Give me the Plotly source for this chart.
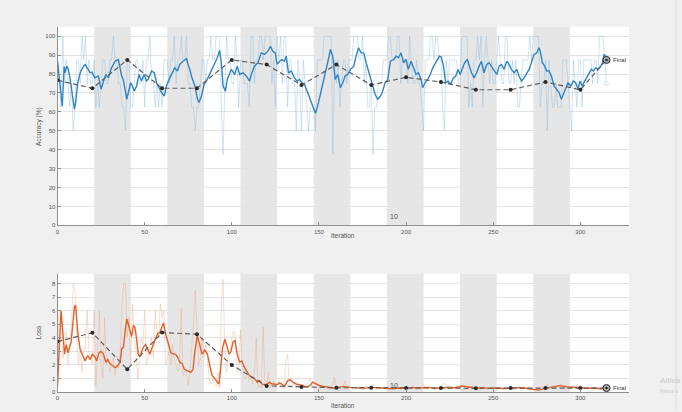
import plotly.graph_objects as go

# ---------------- data ----------------
ITERS_PER_EPOCH = 21
N_EPOCHS = 15

acc_raw = [
    87.5, 75, 62.5, 100, 75, 87.5, 75, 62.5, 75, 50,
    62.5, 87.5, 87.5, 75, 100, 87.5, 100, 75, 87.5, 75,
    75, 87.5, 62.5, 75, 62.5, 75, 87.5, 87.5, 75, 75,
    87.5, 87.5, 100, 87.5, 87.5, 75, 75, 62.5, 62.5, 50,
    87.5, 87.5, 62.5, 62.5, 75, 87.5, 87.5, 75, 75, 87.5,
    62.5, 87.5, 87.5, 100, 75, 75, 62.5, 75, 62.5, 75,
    62.5, 87.5, 87.5, 87.5, 75, 87.5, 87.5, 100, 75, 87.5,
    87.5, 100, 87.5, 87.5, 100, 75, 75, 62.5, 62.5, 50,
    62.5, 62.5, 75, 87.5, 87.5, 75, 87.5, 87.5, 100, 87.5,
    87.5, 100, 100, 100, 62.5, 37.5, 75, 100, 87.5, 87.5,
    75, 75, 100, 87.5, 62.5, 87.5, 87.5, 75, 75, 75,
    62.5, 100, 100, 75, 87.5, 87.5, 100, 100, 87.5, 100,
    100, 100, 100, 75, 87.5, 62.5, 100, 87.5, 100, 75,
    100, 100, 62.5, 87.5, 87.5, 75, 75, 50, 87.5, 75,
    50, 87.5, 75, 62.5, 50, 62.5, 62.5, 62.5, 50, 87.5,
    87.5, 87.5, 87.5, 100, 100, 100, 100, 100, 37.5, 87.5,
    75, 87.5, 62.5, 75, 87.5, 87.5, 75, 87.5, 87.5, 87.5,
    100, 100, 100, 87.5, 87.5, 100, 75, 87.5, 62.5, 62.5,
    75, 37.5, 62.5, 62.5, 75, 75, 75, 87.5, 87.5, 87.5,
    100, 100, 87.5, 87.5, 87.5, 100, 100, 75, 87.5, 87.5,
    87.5, 75, 100, 87.5, 75, 75, 87.5, 75, 75, 62.5,
    50, 87.5, 87.5, 87.5, 100, 100, 87.5, 100, 100, 87.5,
    87.5, 62.5, 50, 87.5, 75, 87.5, 87.5, 87.5, 87.5, 87.5,
    75, 75, 100, 100, 100, 100, 62.5, 75, 62.5, 87.5,
    87.5, 100, 87.5, 100, 62.5, 87.5, 100, 87.5, 75, 87.5,
    75, 75, 87.5, 100, 87.5, 75, 75, 100, 100, 75,
    75, 87.5, 75, 87.5, 62.5, 62.5, 75, 87.5, 87.5, 87.5,
    87.5, 100, 87.5, 100, 100, 100, 100, 62.5, 75, 75,
    87.5, 50, 87.5, 75, 62.5, 62.5, 75, 62.5, 62.5, 62.5,
    87.5, 87.5, 87.5, 75, 62.5, 50, 87.5, 75, 62.5, 87.5,
    87.5, 62.5, 87.5, 87.5, 87.5, 87.5, 87.5, 75, 87.5, 87.5,
    75, 100, 100, 100, 87.5, 75,
]

acc_smooth_iter = [
    0, 1, 2.7, 3.8, 4.3, 5.3, 6.2, 7.1, 8.6, 9.7, 10.4, 11.6, 13, 14.9, 15.9, 17.4, 18.7, 19.7,
    21.5, 23.4, 25, 26.3, 27.7, 29.2, 31, 33, 34.9, 36.8, 37.7, 39.7, 41, 42, 42.9, 44, 45.4,
    46.7, 48.2, 49.7, 51, 52, 54, 55.5, 56.8, 58.2, 59.7, 61.2, 62.5, 64, 65.4, 66.3, 67.3,
    68.8, 70.1, 72, 74, 74.9, 75.9, 76.8, 78.8, 80.3, 81.2, 82.6, 84.1, 85.4, 86.8, 88.3, 90.2,
    91.7, 93, 94, 95, 96.3, 97.4, 98.7, 99.7, 101.6, 103.1, 104.5, 106.4, 108.3, 110.2, 111.5,
    113, 115, 116.9, 118.8, 120.7, 122.2, 123.5, 124.9, 126, 127.4, 128.7, 130.2, 131.2, 132.5,
    134.1, 136, 137.5, 138.8, 140.2, 141.7, 143.2, 144.6, 146.5, 148, 149.3, 150.9, 152.2,
    154.1, 155.4, 156.6, 157.9, 159.3, 160.8, 162.3, 163.7, 165, 166.5, 168.1, 170, 171.3,
    172.7, 174.2, 175.7, 177.1, 178, 179.5, 180.9, 182.2, 183.7, 185.3, 186.6, 187.9, 189.5,
    191, 192.9, 194.3, 195.6, 197.1, 198.6, 200, 201.3, 202.9, 204.4, 205.7, 207.1, 208.6,
    209.5, 210.9, 212.4, 213.9, 215.3, 217.2, 219.1, 220.2, 221.5, 222.7, 224.1, 225.6, 227.1,
    228.5, 229.8, 231, 232.3, 233.6, 235.2, 236.1, 237.5, 239, 240.5, 241.9, 243.2, 244.7,
    246.3, 247.6, 248.9, 250.5, 252, 253.4, 254.7, 256.2, 257.8, 259.1, 260.4, 262, 263.5,
    264.8, 266.2, 267.7, 269.2, 270.6, 271.9, 273.4, 275, 276.3, 277.2, 278.2, 279.5, 280.7,
    282, 283.4, 284.9, 286.4, 287.8, 289.1, 290.3, 291.6, 292.9, 294.5, 296, 297.3, 298.7,
    299.8, 301.1, 302.5, 303.6, 305, 306.3, 307.5, 308.8, 310.2, 311.7, 312.7, 313.6, 314.6, 315,
]
acc_smooth = [
    87, 79, 63, 84, 80.7, 84.2, 82.5, 78, 66.7, 61.4, 65, 75.4, 80.7, 84.2, 85, 82.5, 80.7, 81,
    78, 79, 72, 76, 79.8, 78, 83.3, 86.8, 87.7, 79, 77.2, 66.7, 71, 75.4, 73.7, 71, 73.7,
    79.8, 76.3, 79.8, 76.3, 77.2, 81.6, 80.7, 75.4, 72.8, 70.2, 68.4, 73.7, 77.2, 79.8, 81, 83.3,
    81.6, 85.1, 86.8, 88.1, 85, 82.5, 79, 73.7, 66.7, 65, 68.4, 74.6, 76.3, 79, 82.5, 86,
    88.6, 92.6, 86, 73.7, 71, 77.2, 80.7, 82.5, 79.8, 84.2, 79.8, 80.7, 79, 76.3, 80.7,
    84.2, 86, 91.2, 90.4, 92.1, 94.7, 92.1, 91.2, 85.1, 86.8, 87.7, 86.8, 89.5, 80.7,
    81.6, 78, 76.3, 77.2, 75.4, 74.6, 71, 66.7, 62.3, 59.3, 63.2, 69.3, 75.4,
    81.6, 87.7, 93, 89.5, 77.2, 79.8, 72.8, 75.4, 79, 79.8, 82.5, 84.2, 89.5,
    93.9, 91.2, 91.2, 86, 83.3, 78, 73.7, 69.3, 66.7, 68.4, 71, 75.4, 77.2,
    86.8, 87.7, 89.5, 88.6, 91.2, 86, 87.7, 82.5, 86.8, 82.5, 79.8, 80.7, 77.2,
    72.8, 75.4, 77.2, 79.8, 83.3, 86.8, 89.5, 89, 84, 75.4, 76.3, 74.6, 78,
    79, 82.5, 79.8, 82.5, 86, 87.7, 85.1, 80.7, 78, 80.7, 84.2, 86.8, 80.7,
    85.1, 86, 84.2, 82.5, 79.8, 84.2, 85.1, 82.5, 86.8, 85.1, 82.5, 80.7, 82.5,
    79, 76.3, 78, 80.7, 82.5, 86, 90.4, 91.2, 93.9, 91.2, 86, 84.2, 81.6,
    81.6, 79, 73.7, 71.9, 70.2, 66.7, 69.3, 72.8, 75.4, 73.7, 76.3, 75.4, 71.9,
    76.3, 73.7, 76.3, 78, 79.8, 82.5, 81.6, 83.3, 82.5, 84.2, 86, 90.4, 89.5, 87.7,
]

loss_raw = [
    0.4, 6.0, 6.0, 2.5, 3.0, 4.5, 2.0, 3.5, 5.0, 8.0,
    7.5, 4.0, 2.0, 3.2, 1.5, 2.8, 3.5, 6.0, 3.0, 2.5,
    2.0, 6.0, 0.5, 3.5, 6.0, 2.0, 1.0, 5.5, 2.0, 2.5,
    1.5, 2.0, 2.5, 1.2, 2.0, 1.8, 3.0, 6.5, 8.0, 8.0,
    4.0, 5.5, 2.0, 6.5, 4.0, 3.0, 1.0, 2.5, 4.0, 3.5,
    6.0, 2.0, 2.5, 3.5, 4.0, 2.5, 6.0, 4.5, 4.0, 6.5,
    5.5, 6.0, 2.0, 2.5, 3.0, 2.0, 3.5, 2.5, 2.0, 1.5,
    1.8, 6.2, 1.2, 1.5, 1.5, 0.5, 1.5, 3.0, 5.0, 7.5,
    4.0, 2.0, 2.5, 4.0, 2.5, 3.5, 2.5, 1.0, 0.6, 1.0,
    0.5, 0.4, 1.5, 0.3, 6.5, 8.3, 3.0, 1.5, 2.5, 3.0,
    4.0, 4.5, 4.0, 1.5, 1.5, 4.6, 2.0, 1.0, 1.0, 1.5,
    0.8, 1.2, 0.6, 1.5, 4.0, 0.3, 0.5, 0.3, 4.8, 0.4,
    0.5, 1.5, 0.3, 0.6, 0.8, 0.3, 0.5, 0.9, 0.4, 0.3,
    0.3, 2.3, 2.8, 0.5, 0.4, 0.6, 0.5, 0.3, 0.5, 0.4,
    0.3, 0.4, 0.3, 0.5, 0.7, 1.0, 0.5, 0.4, 0.3, 0.5,
    0.4, 0.3, 0.4, 0.3, 0.2, 0.4, 0.3, 0.2, 0.6, 1.1,
    0.3, 0.4, 0.3, 0.2, 0.4, 0.85, 0.3, 0.2, 0.3, 0.3,
    0.2, 0.3, 0.2, 0.4, 0.3, 0.2, 0.3, 0.5, 0.3, 0.2,
    0.4, 0.6, 0.3, 0.2, 0.3, 0.3, 0.2, 0.4, 0.3, 0.2,
    0.3, 0.2, 0.3, 0.4, 0.2, 0.3, 0.3, 0.2, 0.3, 0.4,
    0.2, 0.3, 0.2, 0.3, 0.5, 0.3, 0.2, 0.3, 0.2, 0.4,
    0.6, 0.3, 0.2, 0.3, 0.2, 0.3, 0.2, 0.2, 0.3, 0.2,
    0.3, 0.5, 0.7, 0.3, 0.2, 0.3, 0.2, 0.3, 0.2, 0.3,
    0.3, 0.4, 0.2, 0.1, 0.2, 0.2, 0.4, 0.3, 0.5, 0.3,
    0.2, 0.2, 0.3, 0.2, 0.4, 0.3, 0.2, 0.2, 0.3, 0.3,
    0.4, 0.3, 0.2, 0.2, 0.3, 0.2, 0.3, 0.2, 0.2, 0.3,
    0.3, 0.2, 0.3, 0.2, 0.4, 0.5, 0.3, 0.2, 0.3, 0.2,
    0.2, 0.1, 0.2, 0.2, 0.1, 0.2, 0.2, 0.4, 0.3, 0.3,
    0.3, 0.6, 0.3, 0.4, 0.5, 0.4, 0.3, 0.4, 0.5, 0.6,
    0.3, 0.3, 0.2, 0.3, 0.4, 0.5, 0.3, 0.3, 0.5, 0.2,
    0.2, 0.4, 0.2, 0.3, 0.2, 0.3, 0.2, 0.3, 0.2, 0.3,
    0.3, 0.2, 0.2, 0.1, 0.2, 0.3,
]

loss_smooth_iter = [
    0, 1, 2, 3, 4, 5, 6, 7.8, 8.6, 9.7, 10.4, 11.6, 12.9, 14.3, 15.8, 17.3, 18.7, 20, 21.5,
    22.5, 23.8, 25, 26.3, 27.7, 28.8, 30.1, 31.5, 33, 34.5, 35.9, 36.8, 37.8, 38.7, 39.7,
    40.6, 41.6, 42.5, 43.5, 44.4, 45.4, 46.3, 47.3, 48.2, 49.2, 50.5, 51.7, 53, 54, 54.9,
    56.3, 57.4, 58.7, 60.1, 60.8, 62, 63.5, 65, 66.4, 67.7, 68.8, 70.2, 71.5, 72.7, 74, 75.3,
    76.5, 77.8, 78.7, 80.2, 81.6, 82.9, 84.4, 86, 87.3, 88.6, 90.2, 91.7, 92.6, 93.5, 94.6,
    96, 97.3, 98.5, 99.5, 100.7, 101.8, 103.1, 104.5, 105.8, 107.3, 108.9, 110.2, 111.5, 113,
    114.6, 115.9, 117.2, 118.8, 120.3, 121.6, 123, 124.5, 126, 127.4, 128.7, 130.2, 132.1,
    133.6, 135, 136.9, 138.8, 140.7, 142.6, 144.5, 146.4, 148.3, 150.2, 153.1, 156, 158.8,
    160, 164, 168, 172, 176, 180, 184, 188, 192, 196, 200, 204, 208, 212, 216, 220, 224, 228,
    232, 236, 240, 244, 248, 252, 256, 260, 264, 268, 272, 276, 280, 284, 288, 292, 296, 300,
    304, 308, 312, 315,
]
loss_smooth = [
    0.5, 3.3, 6.0, 4.5, 2.8, 3.5, 2.9, 3.7, 5.1, 6.3, 6.4, 4.4, 3.2, 2.7, 2.3, 2.7, 2.4, 2.8, 2.6,
    2.3, 2.9, 3.0, 2.8, 2.2, 2.4, 2.1, 1.95, 1.8, 1.95, 2.2, 3.2, 3.3, 4.4, 5.4,
    5.0, 4.6, 4.1, 4.9, 4.8, 3.9, 2.8, 2.6, 2.9, 3.3, 3.5, 3.2, 2.8, 3.2, 3.5,
    4.0, 4.3, 4.4, 4.9, 5.1, 4.3, 3.5, 2.9, 2.8, 2.8, 2.6, 2.2, 2.1, 1.7, 1.6, 1.5,
    1.45, 1.7, 2.9, 4.2, 3.4, 2.8, 3.1, 2.8, 2.0, 1.25, 1.0, 0.7, 0.6, 1.6, 3.2,
    3.9, 3.4, 2.8, 3.0, 3.7, 3.8, 2.8, 2.2, 2.3, 1.8, 1.5, 1.2, 1.1, 1.0,
    0.73, 0.85, 0.6, 0.54, 0.6, 0.73, 0.6, 0.6, 0.54, 0.68, 0.6, 0.41, 0.85,
    0.93, 0.73, 0.6, 0.54, 0.49, 0.37, 0.44, 0.73, 0.6, 0.49, 0.41, 0.34, 0.29,
    0.33, 0.42, 0.35, 0.3, 0.28, 0.35, 0.3, 0.27, 0.25, 0.3, 0.28, 0.33, 0.3, 0.35, 0.3, 0.28, 0.36, 0.32,
    0.45, 0.35, 0.3, 0.33, 0.28, 0.3, 0.27, 0.3, 0.33, 0.3, 0.22, 0.15, 0.28, 0.4, 0.48, 0.4, 0.35, 0.3,
    0.28, 0.3, 0.25, 0.28,
]

val_iter = [0, 20, 40, 60, 80, 100, 120, 140, 160, 180, 200, 220, 240, 260, 280, 300, 315]
val_acc = [76.7, 72.5, 87.5, 72.5, 72.5, 87.5, 85.0, 74.2, 85.0, 74.2, 78.3, 75.8, 71.7, 71.7,
           75.8, 71.7, 87.5]
val_loss = [3.73, 4.37, 1.68, 4.39, 4.27, 2.0, 0.46, 0.37, 0.32, 0.33, 0.3, 0.3, 0.28, 0.3,
            0.3, 0.3, 0.3]

acc_ticks = [0, 10, 20, 30, 40, 50, 60, 70, 80, 90, 100]
loss_ticks = [0, 1, 2, 3, 4, 5, 6, 7, 8]
iter_ticks = [0, 50, 100, 150, 200, 250, 300]

# ---------------- style ----------------
FONT = "Liberation Sans, Arial, sans-serif"
BG = "#f0f0f0"
BAND = "#e6e6e6"
GRID = "#e4e4e4"
AXIS = "#8f8f8f"
TXT = "#555555"
BLUE = "#2f84c6"
BLUE_RAW = "rgba(130,185,230,0.38)"
ORANGE = "#e0622a"
ORANGE_RAW = "rgba(240,150,110,0.32)"
VAL = "#5e5e5e"
DASH = "5px,3px"

W, H = 682, 412
X0, X1 = 55.7, 629.0
TOP_Y0, TOP_Y1 = 27.0, 227.0
BOT_Y0, BOT_Y1 = 275.7, 395.0

iters = list(range(len(acc_raw)))

fig = go.Figure()

# training accuracy (raw + smoothed)
fig.add_trace(go.Scatter(x=iters, y=acc_raw, mode="lines",
                         line=dict(color=BLUE_RAW, width=1), xaxis="x", yaxis="y"))
fig.add_trace(go.Scatter(x=acc_smooth_iter, y=acc_smooth, mode="lines",
                         line=dict(color=BLUE, width=1.4), xaxis="x", yaxis="y"))
fig.add_trace(go.Scatter(x=[iters[-1]], y=[acc_raw[-1]], mode="markers",
                         marker=dict(size=4, color="white", line=dict(color=BLUE_RAW, width=1)),
                         xaxis="x", yaxis="y"))
# validation accuracy
fig.add_trace(go.Scatter(x=val_iter, y=val_acc, mode="lines",
                         line=dict(color=VAL, width=1.2, dash=DASH), xaxis="x", yaxis="y"))
fig.add_trace(go.Scatter(x=val_iter[:-1], y=val_acc[:-1], mode="markers",
                         marker=dict(size=4, color="#2a2a2a"), xaxis="x", yaxis="y"))
fig.add_trace(go.Scatter(x=[val_iter[-1]], y=[val_acc[-1]], mode="markers",
                         marker=dict(size=7, color="#b0b0b0", line=dict(color="#222222", width=1)),
                         xaxis="x", yaxis="y"))
fig.add_trace(go.Scatter(x=[val_iter[-1]], y=[val_acc[-1]], mode="markers",
                         marker=dict(size=2.5, color="#222222"), xaxis="x", yaxis="y"))

# training loss (raw + smoothed)
fig.add_trace(go.Scatter(x=iters, y=loss_raw, mode="lines",
                         line=dict(color=ORANGE_RAW, width=1), xaxis="x2", yaxis="y2"))
fig.add_trace(go.Scatter(x=loss_smooth_iter, y=loss_smooth, mode="lines",
                         line=dict(color=ORANGE, width=1.4), xaxis="x2", yaxis="y2"))
# validation loss
fig.add_trace(go.Scatter(x=val_iter, y=val_loss, mode="lines",
                         line=dict(color=VAL, width=1.2, dash=DASH), xaxis="x2", yaxis="y2"))
fig.add_trace(go.Scatter(x=val_iter[:-1], y=val_loss[:-1], mode="markers",
                         marker=dict(size=4, color="#2a2a2a"), xaxis="x2", yaxis="y2"))
fig.add_trace(go.Scatter(x=[val_iter[-1]], y=[val_loss[-1]], mode="markers",
                         marker=dict(size=7, color="#b0b0b0", line=dict(color="#222222", width=1)),
                         xaxis="x2", yaxis="y2"))
fig.add_trace(go.Scatter(x=[val_iter[-1]], y=[val_loss[-1]], mode="markers",
                         marker=dict(size=2.5, color="#222222"), xaxis="x2", yaxis="y2"))

# shaded alternate epochs
shapes = []
for ep in range(1, N_EPOCHS, 2):
    a, b = ep * ITERS_PER_EPOCH, (ep + 1) * ITERS_PER_EPOCH
    for xr, yr in (("x", "y domain"), ("x2", "y2 domain")):
        shapes.append(dict(type="rect", xref=xr, yref=yr, x0=a, x1=b, y0=0, y1=1,
                           fillcolor=BAND, line=dict(width=0), layer="below"))
# panel divider on the right
shapes.append(dict(type="line", xref="paper", yref="paper", x0=676 / W, x1=676 / W, y0=0, y1=1,
                   line=dict(color="#d8d8d8", width=1)))


def px_x(p):
    return p / W


def px_y(p):
    return 1 - p / H


axis_common = dict(showline=True, linecolor=AXIS, linewidth=1, ticks="inside", ticklen=3,
                   tickcolor=AXIS, tickfont=dict(family=FONT, size=6, color=TXT),
                   zeroline=False, mirror=False)

fig.update_layout(
    width=W, height=H, margin=dict(l=0, r=0, t=0, b=0),
    paper_bgcolor=BG, plot_bgcolor="white", showlegend=False,
    font=dict(family=FONT, color=TXT),
    shapes=shapes,
    xaxis=dict(domain=[px_x(X0), px_x(X1)], range=[0, 328], tickvals=iter_ticks,
               showgrid=False, anchor="y", **axis_common),
    yaxis=dict(domain=[px_y(TOP_Y1), px_y(TOP_Y0)], range=[0, 105], tickvals=acc_ticks,
               showgrid=True, gridcolor=GRID, gridwidth=1, anchor="x", **axis_common),
    xaxis2=dict(domain=[px_x(X0), px_x(X1)], range=[0, 328], tickvals=iter_ticks,
                showgrid=False, anchor="y2", **axis_common),
    yaxis2=dict(domain=[px_y(BOT_Y1), px_y(BOT_Y0)], range=[0, 8.73], tickvals=loss_ticks,
                showgrid=True, gridcolor=GRID, gridwidth=1, anchor="x2", **axis_common),
)

ann = []


def label(text, x, y, size=6.5, angle=0, color=TXT, xanchor="center"):
    ann.append(dict(text=text, x=px_x(x), y=px_y(y), xref="paper", yref="paper",
                    showarrow=False, textangle=angle, xanchor=xanchor, yanchor="middle",
                    font=dict(family=FONT, size=size, color=color)))


label("Accuracy (%)", 37, 127, angle=-90)
label("Loss", 37, 335, angle=-90)
label("Iteration", 342, 237)
label("Iteration", 342, 408)
label("10", 393, 218, size=7)
label("10", 393, 388, size=7)
label("Attiva", 658, 383, size=8, color="#c9c9c9", xanchor="left")
label("Passa a", 658, 394, size=5, color="#cfcfcf", xanchor="left")

# "Final" tags next to the last validation markers
for xr, yr, v in (("x", "y", val_acc[-1]), ("x2", "y2", val_loss[-1])):
    ann.append(dict(text="Final", x=val_iter[-1], y=v, xref=xr, yref=yr, showarrow=False,
                    xanchor="left", xshift=5, font=dict(family=FONT, size=6, color="#333333")))

fig.update_layout(annotations=ann)

fig.write_html("out.html")
